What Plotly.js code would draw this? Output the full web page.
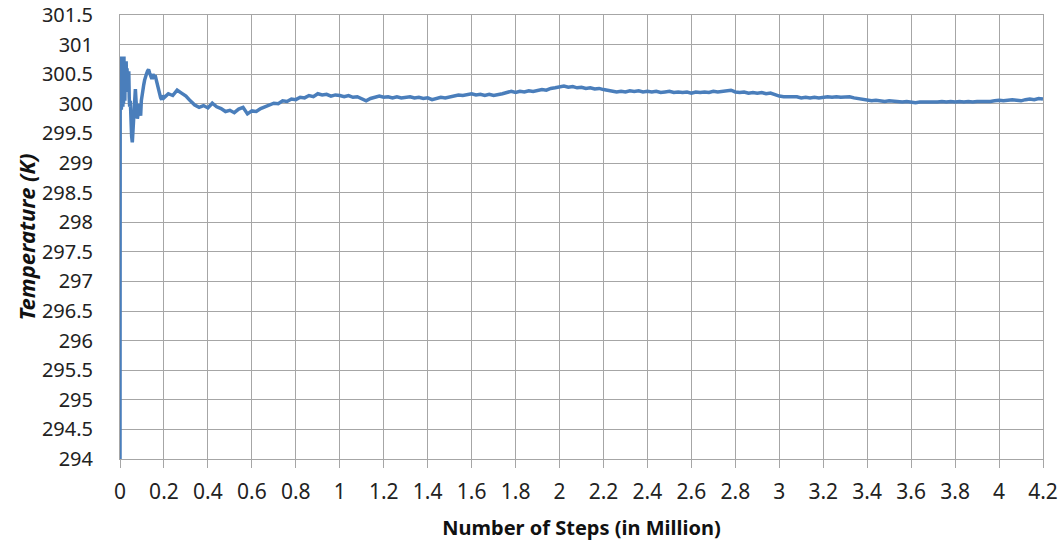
<!DOCTYPE html>
<html>
<head>
<meta charset="utf-8">
<script src="https://cdn.plot.ly/plotly-3.0.1.min.js"></script>
<style>html,body{margin:0;padding:0;background:#fff;}#chart{width:1063px;height:550px;}</style>
</head>
<body>
<div id="chart"></div>
<script>
// Number of steps (millions)
const steps = [
  0, 0.001, 0.002, 0.003, 0.004, 0.005, 0.006, 0.007, 0.008, 0.009, 0.010, 0.012, 0.013, 0.015, 0.016, 0.018,
  0.019, 0.021, 0.022, 0.024, 0.026, 0.028, 0.030, 0.032, 0.034, 0.036, 0.038, 0.040, 0.042, 0.044, 0.047,
  0.050, 0.053, 0.056, 0.059, 0.062, 0.065, 0.068, 0.070, 0.073, 0.076, 0.079, 0.082, 0.085, 0.088, 0.091,
  0.094, 0.097, 0.100, 0.104, 0.108, 0.112, 0.116, 0.120, 0.125, 0.130, 0.135, 0.140, 0.145, 0.150, 0.155,
  0.160, 0.165, 0.170, 0.175, 0.180, 0.185, 0.190, 0.195,
  0.20, 0.22, 0.24, 0.26, 0.28, 0.30, 0.32, 0.34, 0.36, 0.38, 0.40, 0.42, 0.44, 0.46, 0.48, 0.50, 0.52, 0.54,
  0.56, 0.58, 0.60, 0.62, 0.64, 0.66, 0.68, 0.70, 0.72, 0.74, 0.76, 0.78, 0.80, 0.82, 0.84, 0.86, 0.88, 0.90,
  0.92, 0.94, 0.96, 0.98, 1.00, 1.02, 1.04, 1.06, 1.08, 1.10, 1.12, 1.14, 1.16, 1.18, 1.20, 1.22, 1.24, 1.26,
  1.28, 1.30, 1.32, 1.34, 1.36, 1.38, 1.40, 1.42, 1.44, 1.46, 1.48, 1.50, 1.52, 1.54, 1.56, 1.58, 1.60, 1.62,
  1.64, 1.66, 1.68, 1.70, 1.72, 1.74, 1.76, 1.78, 1.80, 1.82, 1.84, 1.86, 1.88, 1.90, 1.92, 1.94, 1.96, 1.98,
  2.00, 2.02, 2.04, 2.06, 2.08, 2.10, 2.12, 2.14, 2.16, 2.18, 2.20, 2.22, 2.24, 2.26, 2.28, 2.30, 2.32, 2.34,
  2.36, 2.38, 2.40, 2.42, 2.44, 2.46, 2.48, 2.50, 2.52, 2.54, 2.56, 2.58, 2.60, 2.62, 2.64, 2.66, 2.68, 2.70,
  2.72, 2.74, 2.76, 2.78, 2.80, 2.82, 2.84, 2.86, 2.88, 2.90, 2.92, 2.94, 2.96, 2.98, 3.00, 3.02, 3.04, 3.06,
  3.08, 3.10, 3.12, 3.14, 3.16, 3.18, 3.20, 3.22, 3.24, 3.26, 3.28, 3.30, 3.32, 3.34, 3.36, 3.38, 3.40, 3.42,
  3.44, 3.46, 3.48, 3.50, 3.52, 3.54, 3.56, 3.58, 3.60, 3.62, 3.64, 3.66, 3.68, 3.70, 3.72, 3.74, 3.76, 3.78,
  3.80, 3.82, 3.84, 3.86, 3.88, 3.90, 3.92, 3.94, 3.96, 3.98, 4.00, 4.02, 4.04, 4.06, 4.08, 4.10, 4.12, 4.14,
  4.16, 4.18, 4.20
];
// Temperature (K)
const temperature = [
  294, 300.8, 299.95, 300.75, 300.0, 300.8, 299.9, 300.6, 300.05, 300.78, 300.1, 300.7, 299.95, 300.65, 300.0, 300.8,
  300.1, 300.7, 300.05, 300.6, 300.2, 300.72, 300.3, 300.6, 300.2, 300.5, 300.4, 300.55, 300.1, 299.95, 300.05,
  299.6, 299.45, 299.35, 299.55, 299.85, 300.05, 300.2, 300.25, 300.05, 299.9, 299.75, 299.82, 299.95, 300.0, 299.85,
  299.8, 300.05, 300.15, 300.2, 300.32, 300.4, 300.48, 300.5, 300.55, 300.58, 300.52, 300.48, 300.42, 300.5, 300.46,
  300.48, 300.4, 300.36, 300.3, 300.2, 300.1, 300.07, 300.14,
  300.10, 300.17, 300.14, 300.23, 300.18, 300.13, 300.05, 299.98, 299.94, 299.97, 299.93, 300.01, 299.95, 299.92, 299.87, 299.89, 299.85, 299.91,
  299.94, 299.83, 299.88, 299.87, 299.92, 299.95, 299.97, 300.01, 300.00, 300.05, 300.04, 300.08, 300.07, 300.11, 300.10, 300.14, 300.12, 300.17,
  300.15, 300.16, 300.13, 300.15, 300.14, 300.12, 300.14, 300.11, 300.12, 300.09, 300.05, 300.09, 300.11, 300.13, 300.11, 300.12, 300.10, 300.12,
  300.10, 300.11, 300.12, 300.10, 300.11, 300.09, 300.10, 300.07, 300.09, 300.11, 300.10, 300.12, 300.13, 300.15, 300.14, 300.16, 300.17, 300.15,
  300.16, 300.14, 300.16, 300.14, 300.15, 300.17, 300.19, 300.21, 300.19, 300.21, 300.20, 300.22, 300.21, 300.23, 300.24, 300.23, 300.26, 300.27,
  300.28, 300.30, 300.28, 300.29, 300.27, 300.28, 300.26, 300.27, 300.25, 300.26, 300.24, 300.23, 300.21, 300.20, 300.21, 300.20, 300.22, 300.21,
  300.22, 300.20, 300.21, 300.20, 300.21, 300.19, 300.20, 300.21, 300.19, 300.20, 300.19, 300.20, 300.18, 300.20, 300.19, 300.20, 300.19, 300.21,
  300.20, 300.21, 300.22, 300.23, 300.20, 300.19, 300.20, 300.18, 300.19, 300.18, 300.19, 300.17, 300.18, 300.15, 300.13, 300.12, 300.12, 300.11,
  300.12, 300.10, 300.11, 300.10, 300.11, 300.10, 300.11, 300.12, 300.11, 300.12, 300.11, 300.12, 300.12, 300.10, 300.09, 300.07, 300.06, 300.05,
  300.06, 300.05, 300.04, 300.05, 300.04, 300.04, 300.03, 300.04, 300.03, 300.02, 300.03, 300.03, 300.02, 300.03, 300.03, 300.04, 300.03, 300.04,
  300.03, 300.04, 300.03, 300.04, 300.03, 300.04, 300.04, 300.03, 300.04, 300.05, 300.06, 300.05, 300.06, 300.07, 300.06, 300.05, 300.07, 300.08,
  300.07, 300.09, 300.08
];
const xTickVals = [0, 0.2, 0.4, 0.6, 0.8, 1, 1.2, 1.4, 1.6, 1.8, 2, 2.2, 2.4, 2.6, 2.8, 3, 3.2, 3.4, 3.6, 3.8, 4, 4.2];
const xTickText = ['0', '0.2', '0.4', '0.6', '0.8', '1', '1.2', '1.4', '1.6', '1.8', '2', '2.2', '2.4', '2.6', '2.8', '3', '3.2', '3.4', '3.6', '3.8', '4', '4.2'];
const yTickVals = [294, 294.5, 295, 295.5, 296, 296.5, 297, 297.5, 298, 298.5, 299, 299.5, 300, 300.5, 301, 301.5];
const yTickText = ['294', '294.5', '295', '295.5', '296', '296.5', '297', '297.5', '298', '298.5', '299', '299.5', '300', '300.5', '301', '301.5'];
const xTitle = 'Number of Steps (in Million)';
const yTitle = 'Temperature (K)';

const trace = {
  x: steps, y: temperature, type: 'scatter', mode: 'lines',
  line: {color: '#4a7ebb', width: 3.5}, hoverinfo: 'x+y'
};
const gridCol = '#a6a6a6';
const fontFam = '"Noto Sans", "Open Sans", sans-serif';
const layout = {
  width: 1063, height: 550,
  margin: {l: 120, r: 20, t: 15, b: 91},
  paper_bgcolor: '#ffffff', plot_bgcolor: '#ffffff',
  showlegend: false,
  font: {family: fontFam, color: '#222222', size: 20},
  xaxis: {
    range: [0, 4.2], tickmode: 'array', tickvals: xTickVals, ticktext: xTickText,
    showgrid: true, gridcolor: gridCol, gridwidth: 1,
    showline: true, linecolor: gridCol, linewidth: 1, mirror: true,
    ticks: 'outside', ticklen: 8, tickcolor: gridCol, tickwidth: 1,
    ticklabelstandoff: 6, ticklabeloverflow: 'allow',
    zeroline: false,
    tickfont: {family: fontFam, size: 21, color: '#222222'},
    title: {text: xTitle, standoff: 16, font: {family: fontFam, size: 20, color: '#111111', weight: 'bold'}}
  },
  yaxis: {
    range: [294, 301.5], tickmode: 'array', tickvals: yTickVals, ticktext: yTickText,
    showgrid: true, gridcolor: gridCol, gridwidth: 1,
    showline: true, linecolor: gridCol, linewidth: 1, mirror: true,
    ticks: '', ticklabelstandoff: 22, ticklabeloverflow: 'allow',
    zeroline: false,
    tickfont: {family: fontFam, size: 20, color: '#222222'},
    title: {text: yTitle, standoff: 0, font: {family: fontFam, size: 22, color: '#111111', weight: 'bold', style: 'italic'}}
  }
};
Plotly.newPlot('chart', [trace], layout, {displayModeBar: false, staticPlot: true});
</script>
</body>
</html>
